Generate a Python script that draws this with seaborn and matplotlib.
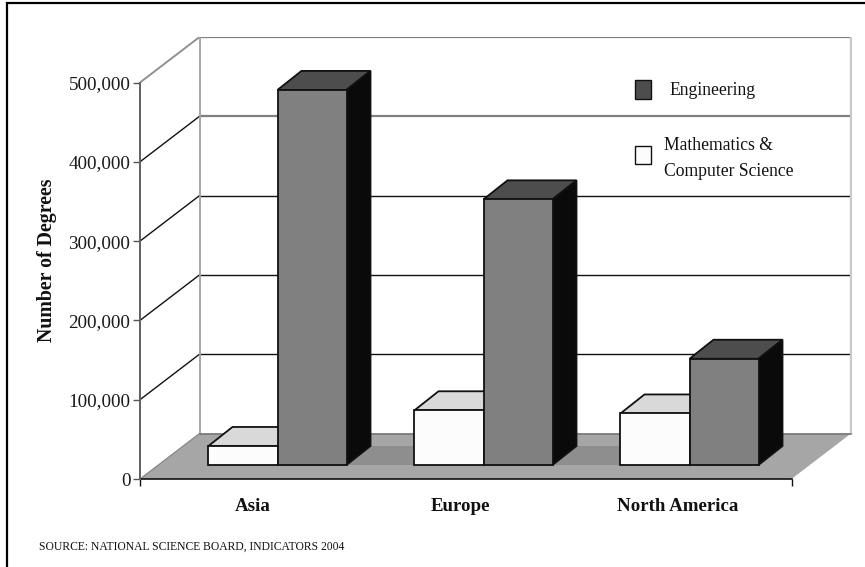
import matplotlib
matplotlib.use("Agg")
import matplotlib.pyplot as plt
from matplotlib.lines import Line2D
from matplotlib.patches import Polygon, Rectangle
import pandas as pd
import seaborn as sns

regions = ["Asia", "Europe", "North America"]
math_cs = [24000, 69000, 65000]
engineering = [473000, 335000, 134000]
y_ticks = [0, 100000, 200000, 300000, 400000, 500000]

FIELD_MATH = "Mathematics & Computer Science"
FIELD_ENG = "Engineering"

df = pd.DataFrame({
    "region": regions * 2,
    "field": [FIELD_MATH] * 3 + [FIELD_ENG] * 3,
    "degrees": math_cs + engineering,
})

sns.set_style("white")
plt.rcParams["font.family"] = ["Liberation Serif", "DejaVu Serif"]

W, H = 865, 567
fig = plt.figure(figsize=(W / 100, H / 100), dpi=100)

# Axes run from the front-left corner of the floor to the back-right corner
# of the wall; the pseudo-3D faces are built in data units on top of them.
PX_PER_CAT = 206.0
PX_PER_UNIT = 79.3 / 100000
left_px, right_px, bottom_px, top_px = 140.0, 851.5, 479.0, 37.0
front_right_px = 791.5
centre_px = 277.5
ax = fig.add_axes([left_px / W, 1 - bottom_px / H,
                   (right_px - left_px) / W, (bottom_px - top_px) / H])


def dx(px):
    return px / PX_PER_CAT


def dy(px):
    return px / PX_PER_UNIT


def cat_x(px):
    return (px - centre_px) / PX_PER_CAT


x_front_l = cat_x(left_px)
x_front_r = cat_x(front_right_px)

wall_dx, wall_dy = dx(59.5), dy(45.5)
bar_dx, bar_dy = dx(24), dy(19)
base_rise = dy(14)

sns.barplot(data=df, x="region", y="degrees", hue="field",
            order=regions, hue_order=[FIELD_MATH, FIELD_ENG],
            palette=["#fcfcfc", "#808080"], width=0.67, gap=0,
            legend=False, ax=ax,
            edgecolor="#111111", linewidth=1.3, zorder=6)
ax.set_xlim(x_front_l, cat_x(right_px))
ax.set_ylim(0, dy(bottom_px - top_px))

# Floor and back wall
wall_x = x_front_l + wall_dx
wall_r = x_front_r + wall_dx
ax.add_patch(Polygon([(x_front_l, 0), (wall_x, wall_dy), (wall_r, wall_dy), (x_front_r, 0)],
                     closed=True, fc="#a6a6a6", ec="none", zorder=1))

# Gridlines across the wall and down the left side
for t in y_ticks[1:]:
    is_grey = t >= 400000
    ln_col = "#808080" if is_grey else "#111111"
    lw = 1.6 if is_grey else 1.0
    ax.plot([wall_x, wall_r], [t + wall_dy, t + wall_dy], color=ln_col, lw=lw, zorder=2)
    diag_col = "#909090" if t == 500000 else "#111111"
    ax.plot([x_front_l, wall_x], [t, t + wall_dy], color=diag_col,
            lw=1.0 if t < 500000 else 1.4, zorder=2)
ax.plot([wall_x, wall_x], [wall_dy, y_ticks[-1] + wall_dy], color="#a0a0a0", lw=1.3, zorder=2)
ax.plot([wall_r, wall_r], [wall_dy, y_ticks[-1] + wall_dy], color="#c8c8c8", lw=1.6, zorder=2)
ax.plot([x_front_l, wall_x], [0, wall_dy], color="#808080", lw=0.8, zorder=2)
ax.plot([wall_x, wall_r], [wall_dy, wall_dy], color="#777777", lw=1.2, zorder=2)

# Lift each bar onto the floor, then give it a top and a side face
bars = [p for p in ax.patches if isinstance(p, Rectangle)]
groups = [(bars[:3], "#d9d9d9", "#d0d0d0", 3), (bars[3:6], "#4d4d4d", "#0a0a0a", 5)]

# Darker footprint band running under the bars
x_a, x_b = bars[0].get_x(), bars[5].get_x()
ax.add_patch(Polygon([(x_a, base_rise), (x_a + bar_dx, base_rise + bar_dy),
                      (x_b + bar_dx, base_rise + bar_dy), (x_b, base_rise)],
                     closed=True, fc="#8e8e8e", ec="none", zorder=2))

for rects, top_col, side_col, z in groups:
    for r in rects:
        x0, w, h = r.get_x(), r.get_width(), r.get_height()
        r.set_y(base_rise)
        r.set_zorder(z + 1)
        y1 = base_rise + h
        ax.add_patch(Polygon([(x0, y1), (x0 + bar_dx, y1 + bar_dy),
                              (x0 + w + bar_dx, y1 + bar_dy), (x0 + w, y1)],
                             closed=True, fc=top_col, ec="#111111", lw=1.3, zorder=z))
        ax.add_patch(Polygon([(x0 + w, base_rise), (x0 + w + bar_dx, base_rise + bar_dy),
                              (x0 + w + bar_dx, y1 + bar_dy), (x0 + w, y1)],
                             closed=True, fc=side_col, ec="#111111", lw=1.3, zorder=z))

# Axes furniture
sns.despine(ax=ax, top=True, right=True)
ax.spines["left"].set_bounds(0, y_ticks[-1])
ax.spines["left"].set_color("#606060")
ax.spines["left"].set_linewidth(1.4)
ax.spines["left"].set_zorder(3)
ax.spines["bottom"].set_bounds(x_front_l, x_front_r)
ax.spines["bottom"].set_color("#111111")
ax.spines["bottom"].set_linewidth(1.2)
ax.patch.set_alpha(0)

ax.set_yticks(y_ticks)
ax.set_yticklabels([f"{t:,}" for t in y_ticks], fontsize=13.8)
ax.tick_params(axis="y", left=True, length=5, width=1.0, color="#555555", pad=2, labelcolor="#1a1a1a")

ax.set_xticks([x_front_l, x_front_r])
ax.set_xticklabels(["", ""])
ax.tick_params(axis="x", which="major", bottom=True, length=5, width=1.0, color="#111111")
ax.set_xticks([cat_x(p) for p in (253, 460.7, 677.5)], minor=True)
ax.set_xticklabels(regions, minor=True, fontsize=13.6, fontweight="bold", color="#111111")
ax.tick_params(axis="x", which="minor", bottom=False, length=0, pad=14)
ax.set_xlabel("")
ax.set_ylabel("Number of Degrees", fontsize=14.3, fontweight="bold", color="#111111", labelpad=0)
ax.yaxis.set_label_coords((47 - left_px) / (right_px - left_px),
                          (bottom_px - 260.5) / (bottom_px - top_px))
ax.yaxis.label.set_verticalalignment("center")


# Legend keys and captions placed in figure pixels
def fig_xy(x, y):
    return x / W, 1 - y / H


for (x0, y0, x1, y1, col) in [(634.5, 80, 651, 98.5, "#4d4d4d"), (634.5, 146, 651, 163.5, "#fcfcfc")]:
    fx, fy = fig_xy(x0, y1)
    fig.add_artist(Rectangle((fx, fy), (x1 - x0) / W, (y1 - y0) / H, transform=fig.transFigure,
                             fc=col, ec="#111111", lw=1.0))
for (tx, ty, s) in [(669.5, 90.5, "Engineering"),
                    (664, 146, "Mathematics &"),
                    (664, 171, "Computer Science")]:
    fx, fy = fig_xy(tx, ty)
    fig.text(fx, fy, s, fontsize=12.7, va="center", ha="left", color="#111111")

fx, fy = fig_xy(39, 547)
fig.text(fx, fy, "SOURCE: NATIONAL SCIENCE BOARD, INDICATORS 2004",
         fontsize=8.33, va="center", ha="left", color="#111111")

# Frame rules along the top and left of the graphic
for xs, ys in [((6, W), (3, 3)), ((7, 7), (2, H))]:
    fig.add_artist(Line2D([x / W for x in xs], [1 - y / H for y in ys],
                          transform=fig.transFigure, color="black", lw=1.6,
                          solid_capstyle="butt"))

fig.savefig("out.png", dpi=100)
